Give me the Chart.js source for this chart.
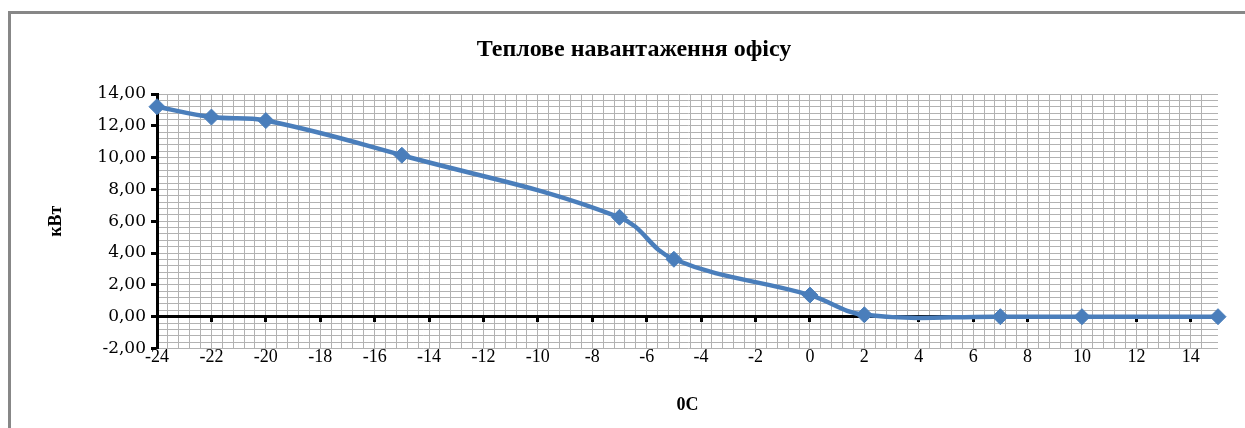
<!DOCTYPE html>
<html>
<head>
<meta charset="utf-8">
<script src="https://cdn.jsdelivr.net/npm/chart.js@4/dist/chart.umd.min.js"></script>
<style>
  html, body { margin: 0; padding: 0; background: #fff; overflow: hidden; }
  #frame { position: absolute; left: 8px; top: 11px; width: 1300px; height: 500px;
           border-left: 3px solid #878787; border-top: 3px solid #878787; }
  #c { position: absolute; left: 0; top: 0; }
</style>
</head>
<body>
<div id="frame"></div>
<canvas id="c" width="1245" height="428"></canvas>
<script>
// ---- data ----
const temperatures = [-24, -22, -20, -15, -7, -5, 0, 2, 7, 10, 15];
const heatLoad     = [13.2, 12.55, 12.33, 10.15, 6.25, 3.61, 1.36, 0.12, 0, 0, 0];

const chartTitle = 'Теплове навантаження офісу';
const xTitle = '0C';
const yTitle = 'кВт';

const xTickValues = [-24, -22, -20, -18, -16, -14, -12, -10, -8, -6, -4, -2, 0, 2, 4, 6, 8, 10, 12, 14];
const xTickLabels = ['-24', '-22', '-20', '-18', '-16', '-14', '-12', '-10', '-8', '-6', '-4', '-2', '0', '2', '4', '6', '8', '10', '12', '14'];
const yTickValues = [-2, 0, 2, 4, 6, 8, 10, 12, 14];
const yTickLabels = ['-2,00', '0,00', '2,00', '4,00', '6,00', '8,00', '10,00', '12,00', '14,00'];

const X_MIN = -24, X_MAX = 15, Y_MIN = -2, Y_MAX = 14, MINOR = 0.4;

// ---- helpers ----
const near = (a, b) => Math.abs(a - b) < 1e-6;
const idxOf = (arr, v) => arr.findIndex(t => near(t, v));
const onMinorGrid = (v, origin) => near(((v - origin) / MINOR), Math.round((v - origin) / MINOR));

const SERIF = '"Liberation Serif", "Times New Roman", serif';
const WIDE_SERIF = '"DejaVu Serif", "Liberation Serif", serif';
const GRID = '#b2b2b2';
const BLUE = '#4a7ebb';
const NONE = 'rgba(0,0,0,0)';

new Chart(document.getElementById('c'), {
  type: 'scatter',
  data: {
    datasets: [{
      data: temperatures.map((t, i) => ({ x: t, y: heatLoad[i] })),
      showLine: true,
      tension: 0.4,
      borderColor: BLUE,
      borderWidth: 4.5,
      pointStyle: 'rectRot',
      pointRadius: 8,
      pointHoverRadius: 8,
      pointBackgroundColor: BLUE,
      pointBorderColor: BLUE,
      pointBorderWidth: 1,
      clip: false
    }]
  },
  options: {
    responsive: false,
    animation: false,
    devicePixelRatio: 1,
    events: [],
    layout: { padding: { left: 23, right: 0, top: 0, bottom: 0 } },
    plugins: {
      legend: { display: false },
      tooltip: { enabled: false },
      title: {
        display: true,
        text: chartTitle,
        color: '#000',
        font: { family: SERIF, size: 24, weight: 'bold', lineHeight: 1.2 },
        padding: { top: 35.6, bottom: 29.6 }
      }
    },
    scales: {
      x: {
        type: 'linear',
        position: 'bottom',
        min: X_MIN, max: X_MAX,
        afterFit: s => { s.height = 79.5; },
        border: { display: false },
        grid: {
          drawTicks: false,
          lineWidth: 1,
          color: ctx => (ctx.tick && onMinorGrid(ctx.tick.value, X_MIN) && !near(ctx.tick.value, X_MAX)) ? GRID : NONE
        },
        ticks: {
          stepSize: MINOR,
          autoSkip: false,
          maxRotation: 0,
          minRotation: 0,
          padding: -2,
          color: '#000',
          font: { family: SERIF, size: 18 },
          callback: v => { const i = idxOf(xTickValues, v); return i >= 0 ? xTickLabels[i] : ''; }
        },
        title: {
          display: true,
          text: xTitle,
          color: '#000',
          font: { family: SERIF, size: 18, weight: 'bold', lineHeight: 1.2 },
          padding: { top: 0, bottom: 12.2 }
        }
      },
      x2: {
        type: 'linear',
        axis: 'x',
        position: { y: 0 },
        min: X_MIN, max: X_MAX,
        border: { display: true, color: '#000', width: 3 },
        grid: {
          drawOnChartArea: false,
          drawTicks: true,
          tickLength: 4,
          tickWidth: 3,
          tickColor: ctx => (ctx.tick && idxOf(xTickValues, ctx.tick.value) >= 0) ? '#000' : NONE
        },
        ticks: { display: false, stepSize: 2, autoSkip: false }
      },
      y: {
        type: 'linear',
        position: 'left',
        min: Y_MIN, max: Y_MAX,
        afterFit: s => { s.width = 134; },
        border: { display: true, color: '#000', width: 3 },
        grid: {
          lineWidth: 1,
          color: GRID,
          drawTicks: true,
          tickLength: 6,
          tickWidth: 3,
          tickColor: ctx => (ctx.tick && idxOf(yTickValues, ctx.tick.value) >= 0) ? '#000' : NONE
        },
        ticks: {
          stepSize: MINOR,
          autoSkip: false,
          padding: 5,
          color: '#000',
          font: { family: WIDE_SERIF, size: 17 },
          callback: v => { const i = idxOf(yTickValues, v); return i >= 0 ? yTickLabels[i] : ''; }
        },
        title: {
          display: true,
          text: yTitle,
          color: '#000',
          font: { family: SERIF, size: 18, weight: 'bold', lineHeight: 1.2 },
          padding: { top: 22.2, bottom: 0 }
        }
      },
      yRight: {
        type: 'linear',
        axis: 'y',
        position: 'right',
        min: Y_MIN, max: Y_MAX,
        afterFit: s => { s.width = 27; },
        border: { display: false },
        grid: { drawOnChartArea: false, drawTicks: false },
        ticks: { display: false }
      }
    }
  }
});
</script>
</body>
</html>
